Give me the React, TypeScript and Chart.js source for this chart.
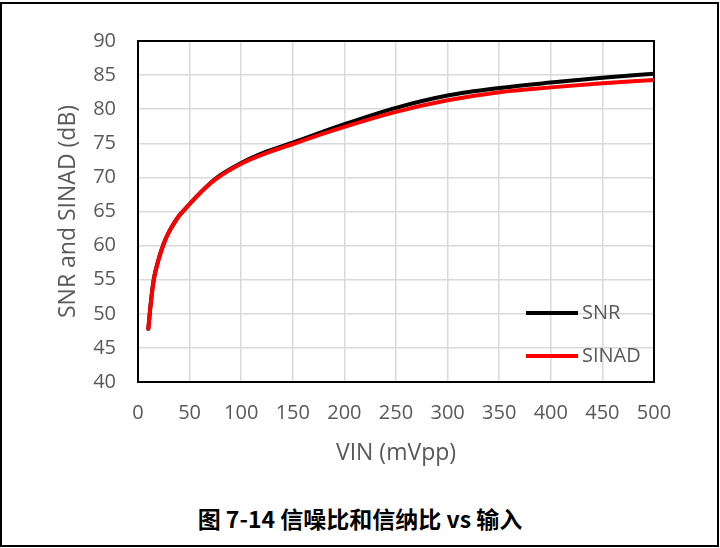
import React, { useEffect, useRef } from "react";
import { Chart, registerables } from "chart.js";

Chart.register(...registerables);

const VIN = [10, 12, 15, 20, 25, 30, 35, 40, 50, 60, 75, 100, 125, 150, 200, 250, 300, 350, 400, 450, 500];
const SNR = [47.8, 51.0, 54.8, 58.0, 60.3, 62.0, 63.3, 64.4, 66.1, 67.7, 69.8, 72.1, 73.8, 75.1, 77.8, 80.2, 82.0, 83.1, 83.9, 84.6, 85.2];
const SINAD = [47.8, 51.0, 54.8, 58.0, 60.3, 62.0, 63.3, 64.4, 66.1, 67.7, 69.7, 72.0, 73.6, 74.9, 77.4, 79.6, 81.3, 82.5, 83.2, 83.8, 84.3];
const SERIES_NAMES = ["SNR", "SINAD"];
const SERIES_COLORS = ["#000000", "#ff0000"];
const X_TITLE = "VIN (mVpp)";
const Y_TITLE = "SNR and SINAD (dB)";
const CAPTION = "图 7-14 信噪比和信纳比 vs 输入";

const TEXT_COLOR = "#595959";
const FONT_FAMILY = "'Open Sans', 'Noto Sans', sans-serif";

export default function App() {
  const canvasRef = useRef<HTMLCanvasElement | null>(null);

  useEffect(() => {
    const canvas = canvasRef.current;
    if (!canvas) return;

    const frameBox = {
      id: "frameBox",
      beforeDatasetsDraw(chart: any) {
        const { ctx, chartArea } = chart;
        ctx.save();
        ctx.strokeStyle = "#000";
        ctx.lineWidth = 2;
        ctx.strokeRect(chartArea.left, chartArea.top, chartArea.right - chartArea.left, chartArea.bottom - chartArea.top);
        ctx.restore();
      },
    };

    const innerLegend = {
      id: "innerLegend",
      afterDraw(chart: any) {
        const { ctx, chartArea } = chart;
        ctx.save();
        chart.data.datasets.forEach((ds: any, i: number) => {
          const y = chartArea.bottom - 69 + i * 43;
          const x0 = chartArea.right - 128;
          ctx.strokeStyle = ds.borderColor;
          ctx.lineWidth = 4;
          ctx.beginPath();
          ctx.moveTo(x0, y);
          ctx.lineTo(x0 + 52, y);
          ctx.stroke();
          ctx.fillStyle = TEXT_COLOR;
          ctx.font = `20px ${FONT_FAMILY}`;
          ctx.textAlign = "left";
          ctx.textBaseline = "middle";
          ctx.fillText(ds.label, x0 + 56, y);
        });
        ctx.restore();
      },
    };

    const tickFont = { family: FONT_FAMILY, size: 20 };
    const titleFont = { family: FONT_FAMILY, size: 23 };

    const chart = new Chart(canvas, {
      type: "line",
      data: {
        datasets: [
          {
            label: SERIES_NAMES[0],
            data: VIN.map((x, i) => ({ x, y: SNR[i] })),
            borderColor: SERIES_COLORS[0],
            backgroundColor: SERIES_COLORS[0],
            borderWidth: 4,
            pointRadius: 0,
            cubicInterpolationMode: "monotone",
            borderCapStyle: "round",
            order: 1,
          },
          {
            label: SERIES_NAMES[1],
            data: VIN.map((x, i) => ({ x, y: SINAD[i] })),
            borderColor: SERIES_COLORS[1],
            backgroundColor: SERIES_COLORS[1],
            borderWidth: 4,
            pointRadius: 0,
            cubicInterpolationMode: "monotone",
            borderCapStyle: "round",
            order: 0,
          },
        ],
      },
      options: {
        animation: false,
        responsive: false,
        maintainAspectRatio: false,
        layout: { padding: { top: 41, right: 66, left: 0, bottom: 0 } },
        plugins: {
          legend: { display: false },
          tooltip: { enabled: false },
        },
        scales: {
          x: {
            type: "linear",
            min: 0,
            max: 500,
            ticks: { stepSize: 50, padding: 19, color: TEXT_COLOR, font: tickFont, maxRotation: 0 },
            grid: { color: "#d9d9d9", lineWidth: 1.5, drawTicks: false },
            border: { display: true, color: "#000", width: 2 },
            title: { display: true, text: X_TITLE, color: TEXT_COLOR, font: titleFont, padding: { top: 0, bottom: 3 } },
            afterFit: (s: any) => {
              s.height = 88;
            },
          },
          y: {
            type: "linear",
            min: 40,
            max: 90,
            ticks: { stepSize: 5, padding: 22, color: TEXT_COLOR, font: tickFont },
            grid: { color: "#d9d9d9", lineWidth: 1.5, drawTicks: false },
            border: { display: true, color: "#000", width: 2 },
            title: { display: true, text: Y_TITLE, color: TEXT_COLOR, font: titleFont, padding: { top: 55, bottom: 0 } },
            afterFit: (s: any) => {
              s.width = 138;
            },
          },
        },
      } as any,
      plugins: [frameBox, innerLegend],
    });

    return () => chart.destroy();
  }, []);

  return (
    <div style={{ position: "absolute", left: 0, top: 0, width: 720, height: 548, background: "#fff", overflow: "hidden" }}>
      <div
        style={{
          position: "absolute",
          left: 0,
          top: 2,
          width: 719,
          height: 545,
          border: "2px solid #000",
          boxSizing: "border-box",
        }}
      />
      <canvas
        ref={canvasRef}
        width={720}
        height={470}
        style={{ position: "absolute", left: 0, top: 0, width: 720, height: 470, display: "block" }}
      />
      <div
        style={{
          position: "absolute",
          left: 0,
          width: 720,
          top: 503,
          textAlign: "center",
          fontFamily: "'Noto Sans CJK SC', sans-serif",
          fontWeight: "bold",
          fontSize: 23,
          lineHeight: "30px",
          color: "#000",
        }}
      >
        {CAPTION}
      </div>
    </div>
  );
}
